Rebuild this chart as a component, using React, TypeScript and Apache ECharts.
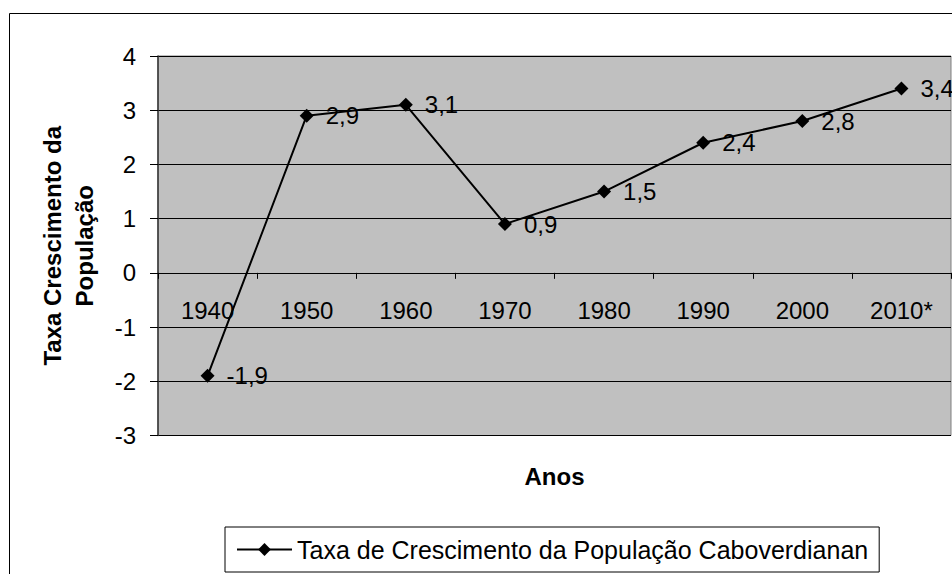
import React, { useEffect, useRef } from "react";
import * as echarts from "echarts";

const categories = ["1940", "1950", "1960", "1970", "1980", "1990", "2000", "2010*"];
const values = [-1.9, 2.9, 3.1, 0.9, 1.5, 2.4, 2.8, 3.4];
const seriesName = "Taxa de Crescimento da População Caboverdianan";
const yAxisTitle = "Taxa Crescimento da\nPopulação";
const xAxisTitle = "Anos";
const yMin = -3;
const yMax = 4;
const yStep = 1;

const FONT = "'Liberation Sans', Arial, sans-serif";

const GRID_TOP = 56;
const GRID_BOTTOM_Y = 435.5;
const CHART_H = 574;

export default function App() {
  const ref = useRef<HTMLDivElement>(null);

  useEffect(() => {
    if (!ref.current) return;
    const chart = echarts.init(ref.current, null, { renderer: "svg" });
    const plotH = GRID_BOTTOM_Y - GRID_TOP;
    // distance from bottom of plot to the zero value line
    const zeroOffset = (plotH * (0 - yMin)) / (yMax - yMin);
    chart.setOption({
      animation: false,
      backgroundColor: "#ffffff",
      textStyle: { fontFamily: FONT, color: "#000" },
      graphic: [
        {
          type: "rect",
          shape: { x: 9.5, y: 13.5, width: 1000, height: 600 },
          style: { fill: "none", stroke: "#000", lineWidth: 1 },
          silent: true,
          z: -10,
        },
      ],
      legend: {
        data: [seriesName],
        left: 225,
        top: 527,
        padding: [10, 11],
        borderColor: "#000",
        borderWidth: 1,
        itemWidth: 55,
        itemHeight: 16,
        textStyle: { fontSize: 25, fontFamily: FONT, color: "#000", lineHeight: 25 },
      },
      grid: {
        left: 158,
        top: GRID_TOP,
        right: 1,
        bottom: CHART_H - GRID_BOTTOM_Y,
        show: true,
        backgroundColor: "#c0c0c0",
        borderColor: "#808080",
        borderWidth: 1,
        outerBoundsMode: "none",
      },
      xAxis: {
        type: "category",
        data: categories,
        boundaryGap: true,
        offset: -zeroOffset,
        name: xAxisTitle,
        nameLocation: "middle",
        nameGap: 192,
        nameTextStyle: { fontSize: 24, fontWeight: "bold", fontFamily: FONT, color: "#000" },
        axisLine: { onZero: false, lineStyle: { color: "#000", width: 1 } },
        axisTick: { show: true, length: 6, alignWithLabel: false, lineStyle: { color: "#000" } },
        axisLabel: { fontSize: 24, color: "#000", fontFamily: FONT, margin: 26 },
        splitLine: { show: false },
      },
      yAxis: {
        type: "value",
        min: yMin,
        max: yMax,
        interval: yStep,
        name: yAxisTitle,
        nameLocation: "middle",
        nameGap: 58,
        nameTextStyle: {
          fontSize: 24,
          fontWeight: "bold",
          fontFamily: FONT,
          color: "#000",
          lineHeight: 32,
          align: "center",
        },
        axisLine: { show: true, lineStyle: { color: "#333", width: 1.5 } },
        axisTick: { show: true, length: 8, lineStyle: { color: "#000" } },
        axisLabel: { fontSize: 24, color: "#000", fontFamily: FONT, margin: 22 },
        splitLine: { show: true, lineStyle: { color: "#000", width: 1 } },
      },
      series: [
        {
          name: seriesName,
          type: "line",
          data: values,
          symbol: "diamond",
          symbolSize: 14,
          itemStyle: { color: "#000" },
          lineStyle: { color: "#000", width: 2 },
          label: {
            show: true,
            position: "right",
            distance: 12,
            fontSize: 24,
            fontFamily: FONT,
            color: "#000",
            formatter: (p: any) => String(p.value).replace(".", ","),
          },
        },
      ],
    });
    return () => chart.dispose();
  }, []);

  return (
    <div
      ref={ref}
      style={{ position: "fixed", left: 0, top: 0, width: 952, height: 574 }}
    />
  );
}
